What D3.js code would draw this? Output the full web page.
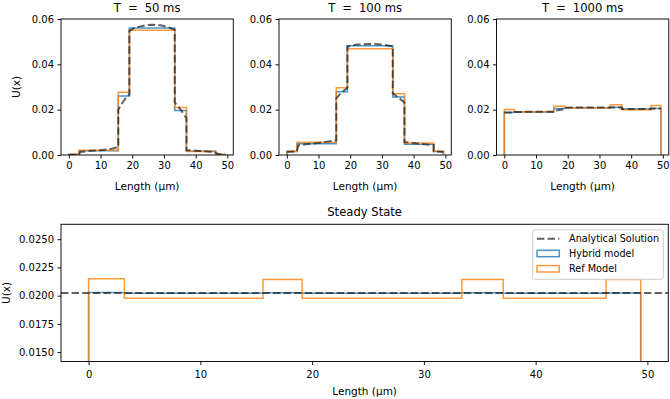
<!DOCTYPE html>
<html>
<head>
<meta charset="utf-8">
<script src="https://cdn.jsdelivr.net/npm/d3@7"></script>
<style>
  body { margin: 0; background: #fff; }
  text { font-family: "DejaVu Sans", sans-serif; fill: #000; }
</style>
</head>
<body>
<div id="chart"></div>
<script>
// cell edges along the fibre (µm)
const edges = [0, 3.2, 15.6, 19.1, 33.4, 37.1, 46.3, 49.4];

// transient snapshots
const times = [50, 100, 1000];
const hybrid50 = [0.0002, 0.0019, 0.0260, 0.0560, 0.0196, 0.0016, 0.0002];
const ref50 = [0.0003, 0.0021, 0.0277, 0.0550, 0.0210, 0.0015, 0.0002];
const hybrid100 = [0.0015, 0.0050, 0.0279, 0.0482, 0.0256, 0.0047, 0.0015];
const ref100 = [0.0016, 0.0056, 0.0297, 0.0469, 0.0270, 0.0053, 0.0016];
const hybrid1000 = [0.0187, 0.0190, 0.0205, 0.0209, 0.0211, 0.0203, 0.0205];
const ref1000 = [0.0201, 0.0191, 0.0215, 0.0208, 0.0222, 0.0200, 0.0218];

// analytical curves (x, U)
const anX50 = [0, 3.2, 3.6, 6, 10, 13, 15.6, 15.6, 16.5, 18, 19.1, 19.1, 21, 24, 26.3, 29, 31.5, 33.4, 33.4, 35, 37.1, 37.1, 40, 44, 46.3, 47.5, 49.4];
const anY50 = [0.0000, 0.0002, 0.0013, 0.0017, 0.0021, 0.0026, 0.0035, 0.0200, 0.0222, 0.0252, 0.0268, 0.0548, 0.0562, 0.0572, 0.0575, 0.0572, 0.0563, 0.0552, 0.0232, 0.0205, 0.0162, 0.0022, 0.0019, 0.0015, 0.0010, 0.0003, 0.0000];
const anX100 = [0, 3.2, 3.6, 6, 10, 15.6, 15.6, 17, 19.1, 19.1, 22, 26, 30, 33.4, 33.4, 35, 37.1, 37.1, 41, 46.3, 46.3, 49.4];
const anY100 = [0.0013, 0.0016, 0.0042, 0.0047, 0.0053, 0.0065, 0.0250, 0.0272, 0.0297, 0.0478, 0.0487, 0.0490, 0.0488, 0.0479, 0.0272, 0.0255, 0.0232, 0.0057, 0.0051, 0.0044, 0.0016, 0.0013];
const anX1000 = [0, 3.2, 3.2, 15.6, 15.6, 19.1, 19.1, 33.4, 33.4, 37.1, 37.1, 46.3, 46.3, 49.4];
const anY1000 = [0.0187, 0.0188, 0.0190, 0.0191, 0.0194, 0.0203, 0.0209, 0.0210, 0.0210, 0.0209, 0.0203, 0.0203, 0.0205, 0.0205];

// steady state
const hybridSS = [0.02028, 0.02022, 0.02026, 0.02022, 0.02026, 0.02022, 0.02024];
const refSS = [0.02150, 0.01978, 0.02144, 0.01978, 0.02142, 0.01978, 0.02142];
const analyticSS = 1 / 49.4;

const xTicks = [0, 10, 20, 30, 40, 50];
const yTicksTop = [0, 0.02, 0.04, 0.06];
const yTicksSS = [0.015, 0.0175, 0.02, 0.0225, 0.025];
const legendLabels = ["Analytical Solution", "Hybrid model", "Ref Model"];

const W = 670, H = 399;
const blue = "#1f77b4", orange = "#ff7f0e";
const xDomain = [-2.47, 51.87];
const tickFont = 10, labelFont = 10.5, titleFont = 11.6;

const svg = d3.select("#chart").append("svg")
  .attr("width", W).attr("height", H);

const snapshots = [
  { t: times[0], hyb: hybrid50, ref: ref50, ax: anX50, ay: anY50 },
  { t: times[1], hyb: hybrid100, ref: ref100, ax: anX100, ay: anY100 },
  { t: times[2], hyb: hybrid1000, ref: ref1000, ax: anX1000, ay: anY1000 }
];

function stairs(vals, x, y) {
  const pts = [[edges[0], 0]];
  vals.forEach((v, i) => pts.push([edges[i], v]));
  pts.push([edges[edges.length - 1], vals[vals.length - 1]]);
  pts.push([edges[edges.length - 1], 0]);
  return d3.line().curve(d3.curveStepAfter).x(d => x(d[0])).y(d => y(d[1]))(pts);
}

function panel(box, id) {
  const g = svg.append("g");
  g.append("clipPath").attr("id", id).append("rect")
    .attr("x", box.l).attr("y", box.t).attr("width", box.r - box.l).attr("height", box.b - box.t);
  const x = d3.scaleLinear().domain(xDomain).range([box.l, box.r]);
  return { g, x };
}

function frame(g, box) {
  g.append("rect")
    .attr("x", box.l).attr("y", box.t)
    .attr("width", box.r - box.l).attr("height", box.b - box.t)
    .attr("fill", "none").attr("stroke", "#111").attr("stroke-width", 1);
}

function xAxis(g, x, box, pad) {
  g.append("g")
    .attr("transform", `translate(0,${box.b})`)
    .call(d3.axisBottom(x).tickValues(xTicks).tickSize(3.5).tickPadding(pad).tickFormat(d3.format("d")))
    .call(a => a.select(".domain").remove())
    .call(a => a.selectAll("text").attr("font-size", tickFont).attr("font-family", "DejaVu Sans"))
    .call(a => a.selectAll("line").attr("stroke", "#111"));
}

function yAxis(g, y, box, ticks, fmt) {
  g.append("g")
    .attr("transform", `translate(${box.l},0)`)
    .call(d3.axisLeft(y).tickValues(ticks).tickSize(3.5).tickPadding(3.5).tickFormat(d3.format(fmt)))
    .call(a => a.select(".domain").remove())
    .call(a => a.selectAll("text").attr("font-size", tickFont).attr("font-family", "DejaVu Sans"))
    .call(a => a.selectAll("line").attr("stroke", "#111"));
}

const lefts = [61, 279, 496.5];
const pw = 172.3;

snapshots.forEach((s, i) => {
  const box = { l: lefts[i], r: lefts[i] + pw, t: 19, b: 155 };
  const { g, x } = panel(box, "clipTop" + i);
  const y = d3.scaleLinear().domain([0, 0.06]).range([box.b, box.t]);
  const plot = g.append("g").attr("clip-path", `url(#clipTop${i})`);

  plot.append("path").attr("d", stairs(s.hyb, x, y))
    .attr("fill", "none").attr("stroke", blue).attr("stroke-opacity", 0.8).attr("stroke-width", 1.5);
  plot.append("path").attr("d", stairs(s.ref, x, y))
    .attr("fill", "none").attr("stroke", orange).attr("stroke-opacity", 0.8).attr("stroke-width", 1.5);
  plot.append("path")
    .attr("d", d3.line().x(d => x(d[0])).y(d => y(d[1]))(s.ax.map((v, k) => [v, s.ay[k]])))
    .attr("fill", "none").attr("stroke", "#222").attr("stroke-opacity", 0.72)
    .attr("stroke-width", 2).attr("stroke-dasharray", "7.4,3.2");

  frame(g, box);
  xAxis(g, x, box, 3.5);
  yAxis(g, y, box, yTicksTop, ".2f");

  const title = g.append("text")
    .attr("x", (box.l + box.r) / 2).attr("y", 11.5)
    .attr("text-anchor", "middle").attr("font-size", titleFont);
  title.append("tspan").text("T");
  title.append("tspan").attr("dx", 7).text("=");
  title.append("tspan").attr("dx", 7).text(`${s.t} ms`);

  g.append("text")
    .attr("x", (box.l + box.r) / 2).attr("y", 189.5)
    .attr("text-anchor", "middle").attr("font-size", labelFont)
    .text("Length (μm)");
  if (i === 0) {
    g.append("text")
      .attr("transform", `translate(16.5,${(box.t + box.b) / 2}) rotate(-90)`)
      .attr("dy", "0.35em").attr("text-anchor", "middle").attr("font-size", labelFont)
      .text("U(x)");
  }
});

// steady state panel
{
  const box = { l: 61, r: 668.3, t: 224.3, b: 361.5 };
  const { g, x } = panel(box, "clipSS");
  const y = d3.scaleLinear().domain([analyticSS * 0.7, analyticSS * 1.3]).range([box.b, box.t]);
  const plot = g.append("g").attr("clip-path", "url(#clipSS)");

  plot.append("path").attr("d", stairs(hybridSS, x, y))
    .attr("fill", "none").attr("stroke", blue).attr("stroke-opacity", 0.8).attr("stroke-width", 1.5);
  plot.append("path").attr("d", stairs(refSS, x, y))
    .attr("fill", "none").attr("stroke", orange).attr("stroke-opacity", 0.8).attr("stroke-width", 1.5);
  plot.append("line")
    .attr("x1", box.l).attr("x2", box.r)
    .attr("y1", y(analyticSS)).attr("y2", y(analyticSS))
    .attr("stroke", "#222").attr("stroke-opacity", 0.72)
    .attr("stroke-width", 2).attr("stroke-dasharray", "7.4,3.2");

  frame(g, box);
  xAxis(g, x, box, 6);
  yAxis(g, y, box, yTicksSS, ".4f");

  g.append("text")
    .attr("x", (box.l + box.r) / 2).attr("y", 215.5)
    .attr("text-anchor", "middle").attr("font-size", titleFont)
    .text("Steady State");
  g.append("text")
    .attr("x", (box.l + box.r) / 2).attr("y", 394.5)
    .attr("text-anchor", "middle").attr("font-size", labelFont)
    .text("Length (μm)");
  g.append("text")
    .attr("transform", `translate(6.5,${(box.t + box.b) / 2}) rotate(-90)`)
    .attr("dy", "0.35em").attr("text-anchor", "middle").attr("font-size", labelFont)
    .text("U(x)");

  // legend
  const lg = g.append("g");
  lg.append("rect")
    .attr("x", 532.7).attr("y", 229.8).attr("width", 130.6).attr("height", 49.5)
    .attr("rx", 2.5).attr("fill", "#fff").attr("fill-opacity", 0.8)
    .attr("stroke", "#ccc").attr("stroke-width", 1);
  const rowY = [238.8, 253.5, 268.8];
  lg.append("line")
    .attr("x1", 537).attr("x2", 559.3).attr("y1", rowY[0]).attr("y2", rowY[0])
    .attr("stroke", "#222").attr("stroke-opacity", 0.72)
    .attr("stroke-width", 2).attr("stroke-dasharray", "7.4,3.2");
  [blue, orange].forEach((c, k) => {
    lg.append("rect")
      .attr("x", 537).attr("y", rowY[k + 1] - 3.2).attr("width", 22.3).attr("height", 6.4)
      .attr("fill", "none").attr("stroke", c).attr("stroke-opacity", 0.8).attr("stroke-width", 1.5);
  });
  legendLabels.forEach((t, k) => {
    lg.append("text")
      .attr("x", 569).attr("y", rowY[k]).attr("dy", "0.35em")
      .attr("font-size", 9.7).text(t);
  });
}
</script>
</body>
</html>
